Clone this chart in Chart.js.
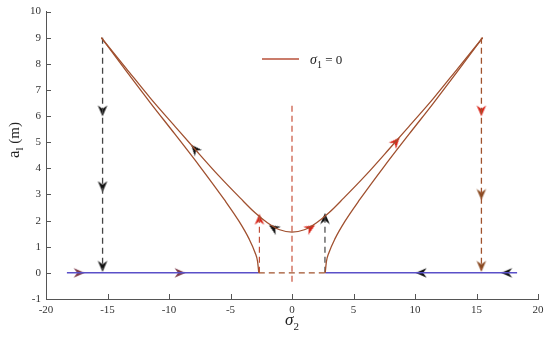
<!DOCTYPE html>
<html>
<head>
<meta charset="utf-8">
<script src="https://cdn.jsdelivr.net/npm/chart.js@4"></script>
<style>
  html, body { margin: 0; padding: 0; background: #fff; }
  #wrap { width: 550px; height: 339px; }
</style>
</head>
<body>
<div id="wrap"><canvas id="myChart" width="550" height="339"></canvas></div>
<script>
// axis ticks
const xTicks = [-20, -15, -10, -5, 0, 5, 10, 15, 20];
const yTicks = [-1, 0, 1, 2, 3, 4, 5, 6, 7, 8, 9, 10];

// sigma1 = 0 branch through the valley
const valleyX = [-15.5, -13.5, -11.5, -9.5, -7.9, -6, -4.2, -3, -2, -1, 0, 1, 2, 3, 4.2, 6, 7.9, 9.5, 11.5, 13.5, 15.5];
const valleyY = [9.0, 7.84, 6.68, 5.6, 4.74, 3.74, 2.86, 2.3, 1.92, 1.65, 1.56, 1.65, 1.92, 2.3, 2.86, 3.74, 4.74, 5.6, 6.68, 7.84, 9.0];

// inner branches ending on the a=0 line
const innerLeftX = [-15.5, -13.5, -11.5, -9.5, -7.5, -5.5, -4.3, -3.5, -3.0, -2.8, -2.7];
const innerLeftY = [9.0, 7.74, 6.5, 5.3, 4.08, 2.8, 1.97, 1.31, 0.77, 0.44, 0];
const innerRightX = [2.7, 2.8, 3.0, 3.5, 4.3, 5.5, 7.5, 9.5, 11.5, 13.5, 15.5];
const innerRightY = [0, 0.44, 0.77, 1.31, 1.97, 2.8, 4.08, 5.3, 6.5, 7.74, 9.0];

// a = 0 segments
const baseLeftX = [-18.3, -2.7];
const baseRightX = [2.7, 18.3];
const baseY = [0, 0];

// dashed jumps
const jumpLeftX = [-15.4, -15.4];
const jumpRightX = [15.4, 15.4];
const jumpY = [9.0, 0.1];
const centerX = [0, 0];
const centerY = [6.4, -0.45];
const gapX = [-2.7, 2.7];
const gapY = [0, 0];
const smallLeftX = [-2.65, -2.65];
const smallRightX = [2.68, 2.68];
const smallY = [0, 2.15];

// arrow heads: position, direction (deg, clockwise from up), colour key
const arrowX = [-15.4, -15.4, -15.4, 15.4, 15.4, 15.4, -7.9, 8.45, -1.5, 1.5, -2.65, 2.68, -17.3, -9.1, 10.5, 17.45];
const arrowY = [6.2, 3.3, 0.25, 6.2, 3.0, 0.25, 4.74, 5.02, 1.72, 1.72, 2.05, 2.08, 0, 0, 0, 0];
const arrowDir = [180, 180, 180, 180, 180, 180, -41, 41, -58, 58, 0, 0, 90, 90, -90, -90];
const arrowCol = ['k', 'k', 'k', 'r', 'b', 'b', 'k', 'r', 'k', 'r', 'r', 'k', 'p', 'p', 'k', 'k'];

const colours = { k: '#111111', r: '#d8261a', b: '#8a4a22', p: '#7a3a4a' };

function arrowImage(col) {
    const c = document.createElement('canvas');
    c.width = 12; c.height = 12;
    const g = c.getContext('2d');
    g.fillStyle = col;
    g.beginPath();
    g.moveTo(6, 0.5);
    g.lineTo(10.8, 11.5);
    g.lineTo(6, 8);
    g.lineTo(1.2, 11.5);
    g.closePath();
    g.fill();
    return c;
}
const arrowImgs = {};
for (const k in colours) arrowImgs[k] = arrowImage(colours[k]);

function pts(xs, ys) {
    return xs.map((v, i) => ({ x: v, y: ys[i] }));
}

function line(xs, ys, color, width, dash, smooth) {
    return {
        data: pts(xs, ys),
        showLine: true,
        borderColor: color,
        borderWidth: width,
        borderDash: dash || [],
        pointRadius: 0,
        cubicInterpolationMode: smooth ? 'monotone' : 'default',
        tension: 0,
        fill: false
    };
}

const curveColour = '#a0502f';

const datasets = [
    line(valleyX, valleyY, curveColour, 1.3, null, true),
    line(innerLeftX, innerLeftY, curveColour, 1.3, null, true),
    line(innerRightX, innerRightY, curveColour, 1.3, null, true),
    line(baseLeftX, baseY, '#5a50c8', 1.5),
    line(baseRightX, baseY, '#5a50c8', 1.5),
    line(jumpLeftX, jumpY, '#444444', 1.3, [6, 4]),
    line(jumpRightX, jumpY, '#a0522d', 1.3, [6, 4]),
    line(centerX, centerY, '#c8503a', 1.2, [6, 4]),
    line(gapX, gapY, '#a0522d', 1.2, [6, 4]),
    line(smallLeftX, smallY, '#c0503a', 1.2, [6, 4]),
    line(smallRightX, smallY, '#444444', 1.2, [6, 4]),
    {
        data: pts(arrowX, arrowY),
        showLine: false,
        pointStyle: arrowCol.map(k => arrowImgs[k]),
        rotation: arrowDir,
        pointRadius: 6
    }
];

function drawSub(ctx, x, y, parts) {
    // parts: [text, font, dy]
    let cx = x;
    for (const p of parts) {
        ctx.font = p[1];
        ctx.fillText(p[0], cx, y + p[2]);
        cx += ctx.measureText(p[0]).width;
    }
    return cx - x;
}
function widthOf(ctx, parts) {
    let w = 0;
    for (const p of parts) { ctx.font = p[1]; w += ctx.measureText(p[0]).width; }
    return w;
}

const decor = {
    id: 'decor',
    afterDraw(chart) {
        const { ctx, chartArea: a, scales: { x, y } } = chart;
        ctx.save();
        ctx.strokeStyle = '#555';
        ctx.lineWidth = 1;
        ctx.beginPath();
        xTicks.forEach(v => {
            const px = Math.round(x.getPixelForValue(v)) + 0.5;
            ctx.moveTo(px, a.bottom);
            ctx.lineTo(px, a.bottom - 5);
        });
        yTicks.forEach(v => {
            const py = Math.round(y.getPixelForValue(v)) + 0.5;
            ctx.moveTo(a.left, py);
            ctx.lineTo(a.left + 5, py);
        });
        ctx.stroke();

        ctx.fillStyle = '#222';
        ctx.textBaseline = 'alphabetic';

        // x title
        const xt = [['σ', 'italic 17px "Liberation Serif"', 0], ['2', '11px "Liberation Serif"', 5]];
        drawSub(ctx, 292 - widthOf(ctx, xt) / 2, 325, xt);

        // y title
        ctx.save();
        ctx.translate(19, 140);
        ctx.rotate(-Math.PI / 2);
        const yt = [['a', '17px "Liberation Serif"', 0], ['l', '11px "Liberation Serif"', 4], [' (m)', '15px "Liberation Serif"', 0]];
        drawSub(ctx, -widthOf(ctx, yt) / 2, 0, yt);
        ctx.restore();

        // legend
        ctx.strokeStyle = '#b8503a';
        ctx.lineWidth = 1.5;
        ctx.beginPath();
        ctx.moveTo(262, 59);
        ctx.lineTo(299, 59);
        ctx.stroke();
        drawSub(ctx, 310, 64, [['σ', 'italic 14px "Liberation Serif"', 0], ['1', '10px "Liberation Serif"', 4], [' = 0', '13px "Liberation Serif"', 0]]);
        ctx.restore();
    }
};

new Chart(document.getElementById('myChart').getContext('2d'), {
    type: 'scatter',
    data: { datasets: datasets },
    options: {
        responsive: false,
        animation: false,
        layout: { padding: { top: 9, right: 12, left: 0, bottom: 0 } },
        plugins: { legend: { display: false }, tooltip: { enabled: false } },
        scales: {
            x: {
                type: 'linear',
                min: -20, max: 20,
                afterBuildTicks: s => { s.ticks = xTicks.map(v => ({ value: v })); },
                afterFit: s => { s.height = 40; },
                grid: { display: true, drawOnChartArea: false, drawTicks: false },
                border: { display: true, color: '#555', width: 1 },
                ticks: { padding: 5, color: '#333', font: { family: 'Liberation Serif', size: 11 }, maxRotation: 0 }
            },
            y: {
                type: 'linear',
                min: -1, max: 10,
                afterBuildTicks: s => { s.ticks = yTicks.map(v => ({ value: v })); },
                afterFit: s => { s.width = 46; },
                grid: { display: true, drawOnChartArea: false, drawTicks: false },
                border: { display: true, color: '#555', width: 1 },
                ticks: { padding: 5, color: '#333', font: { family: 'Liberation Serif', size: 11 } }
            }
        }
    },
    plugins: [decor]
});
</script>
</body>
</html>
